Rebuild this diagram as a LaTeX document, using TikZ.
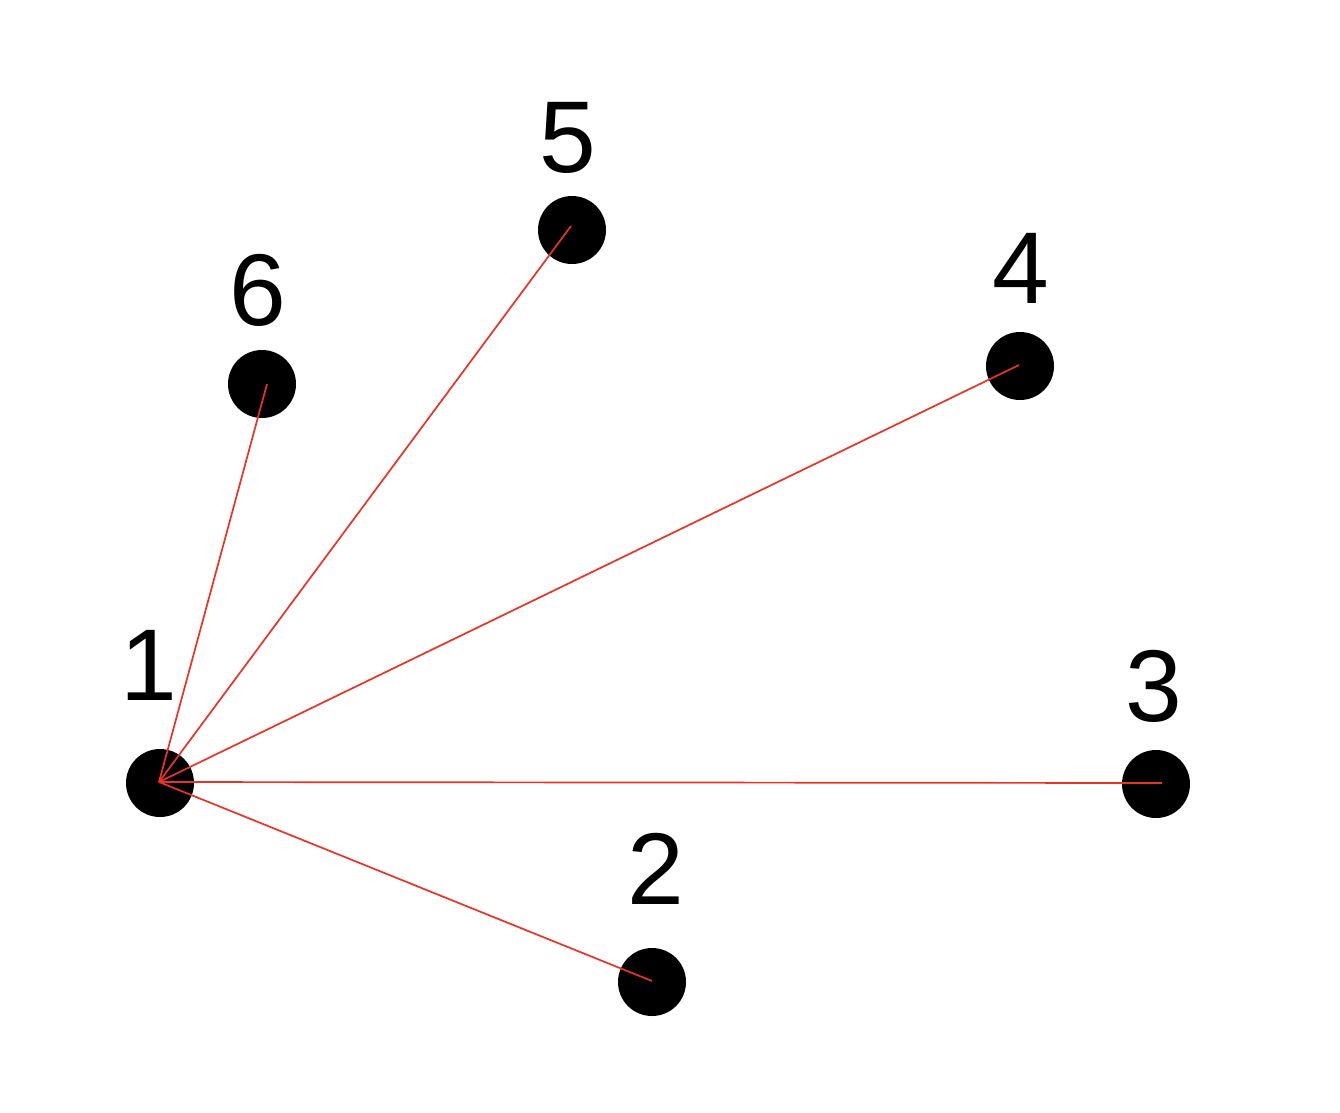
\documentclass[tikz,border=0pt]{standalone}
\usepackage{fontspec}
\setmainfont{Liberation Sans}
\definecolor{edgered}{RGB}{235,51,36}
\begin{document}
\begin{tikzpicture}[x=1pt,y=-1pt,
  dot/.style={circle,fill=black,minimum size=68pt,inner sep=0pt},
  lab/.style={anchor=base,inner sep=0pt,font=\fontsize{102}{102}\selectfont},
  edge/.style={draw=edgered,line width=1.7pt}]
\useasboundingbox (0,0) rectangle (1340,1112);
\node[dot] (n1) at (160,783) {};
\node[dot] (n2) at (652,982) {};
\node[dot] (n3) at (1156,784) {};
\node[dot] (n4) at (1020,366) {};
\node[dot] (n5) at (572,230) {};
\node[dot] (n6) at (262,384) {};
\node[lab] (l1) at (149,700) {1};
\node[lab] (l2) at (656,904) {2};
\node[lab] (l3) at (1154,721) {3};
\node[lab] (l4) at (1021,303) {4};
\node[lab] (l5) at (568,172) {5};
\node[lab] (l6) at (258,325) {6};
\coordinate (s1) at (159,782);
\coordinate (e2) at (652,981);
\coordinate (e3) at (1162,783);
\coordinate (e4) at (1019,365);
\coordinate (e5) at (571,226);
\coordinate (e6) at (267,384);
\draw[edge] (s1) -- (e2);
\draw[edge] (s1) -- (e3);
\draw[edge] (s1) -- (e4);
\draw[edge] (s1) -- (e5);
\draw[edge] (s1) -- (e6);
\end{tikzpicture}
\end{document}
